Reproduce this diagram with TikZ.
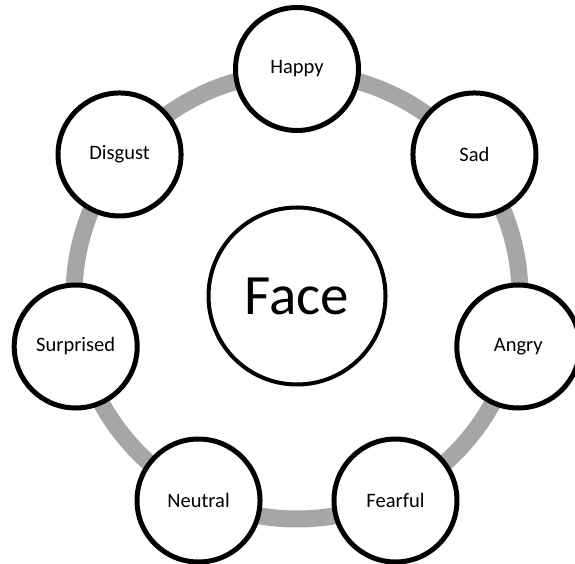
\documentclass[tikz,border=0pt]{standalone}
\usepackage{fontspec}
\setmainfont{Carlito}
\usetikzlibrary{calc}

\begin{document}
\begin{tikzpicture}[x=1pt, y=1pt,
    emo/.style={circle, draw, line width=5pt, fill=white, minimum size=123pt,
        inner sep=0pt, font=\fontsize{20.5}{24}\selectfont},
    core/.style={circle, draw, line width=4pt, fill=white, minimum size=177pt,
        inner sep=0pt, font=\fontsize{57}{60}\selectfont},
    ring/.style={line width=17pt, gray!70}]
    \useasboundingbox (0,0) rectangle (575,564);

    % 中心
    \node[core] (face) at (297,268) {Face};

    % 外周リング
    \draw[ring] (face.center) circle (223);

    % 感情ノード
    \foreach \name/\txt [count=\i from 0] in {happy/Happy, sad/Sad, angry/Angry,
        fearful/Fearful, neutral/Neutral, surprised/Surprised, disgust/Disgust}
        \node[emo] (\name) at ($(face.center)+({90-\i*360/7}:227)$) {\txt};
\end{tikzpicture}
\end{document}
